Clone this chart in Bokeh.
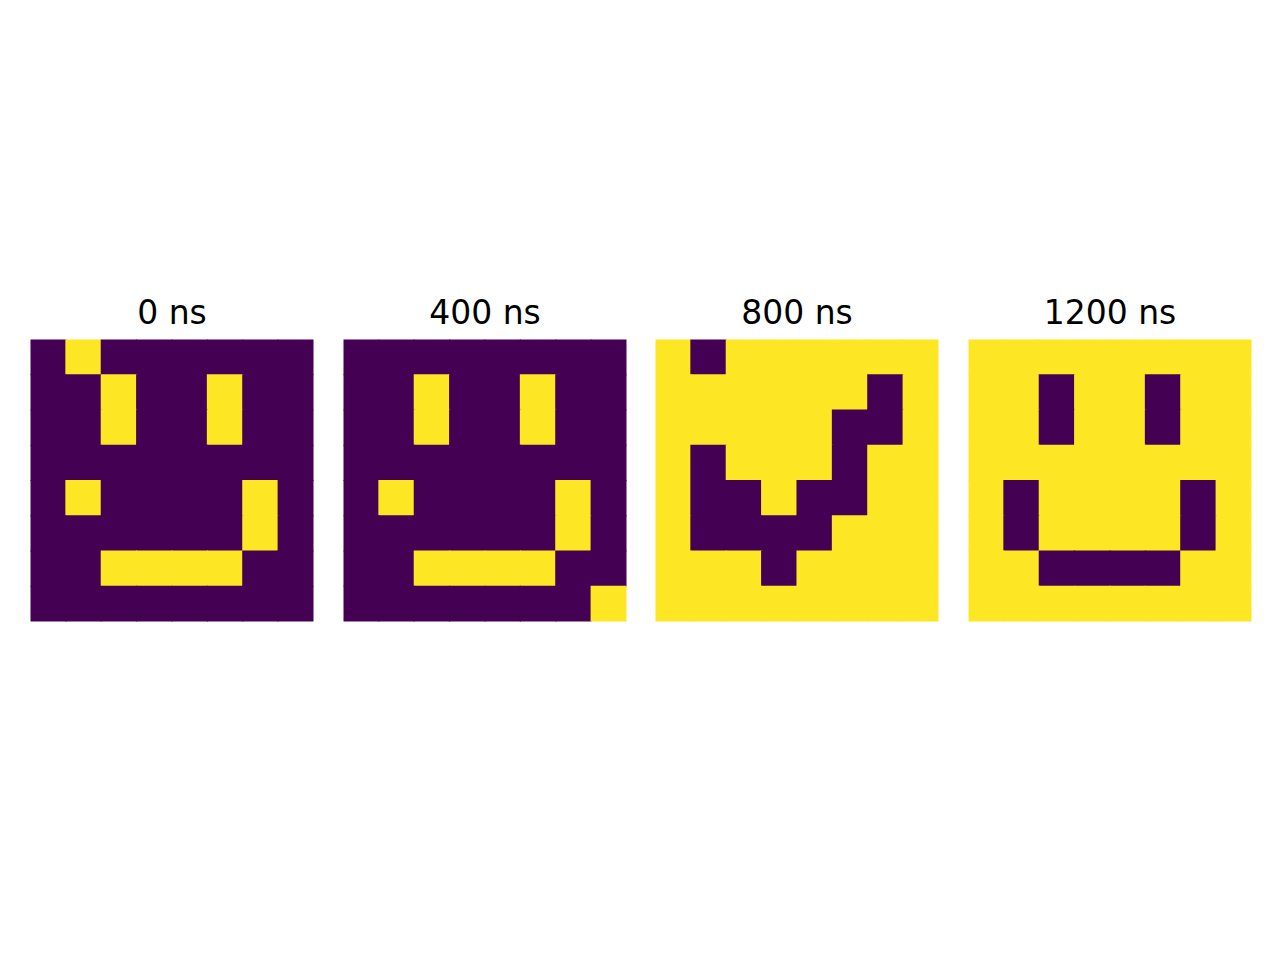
from bokeh.embed import file_html
from bokeh.resources import INLINE
from bokeh.layouts import row, column
from bokeh.models import ColumnDataSource, Range1d, Spacer
from bokeh.plotting import figure

# 8x8 occupation snapshots, row 0 is the top row (1 = yellow, 0 = purple)
snap_0 = [
    [0, 1, 0, 0, 0, 0, 0, 0],
    [0, 0, 1, 0, 0, 1, 0, 0],
    [0, 0, 1, 0, 0, 1, 0, 0],
    [0, 0, 0, 0, 0, 0, 0, 0],
    [0, 1, 0, 0, 0, 0, 1, 0],
    [0, 0, 0, 0, 0, 0, 1, 0],
    [0, 0, 1, 1, 1, 1, 0, 0],
    [0, 0, 0, 0, 0, 0, 0, 0],
]
snap_400 = [
    [0, 0, 0, 0, 0, 0, 0, 0],
    [0, 0, 1, 0, 0, 1, 0, 0],
    [0, 0, 1, 0, 0, 1, 0, 0],
    [0, 0, 0, 0, 0, 0, 0, 0],
    [0, 1, 0, 0, 0, 0, 1, 0],
    [0, 0, 0, 0, 0, 0, 1, 0],
    [0, 0, 1, 1, 1, 1, 0, 0],
    [0, 0, 0, 0, 0, 0, 0, 1],
]
snap_800 = [
    [1, 0, 1, 1, 1, 1, 1, 1],
    [1, 1, 1, 1, 1, 1, 0, 1],
    [1, 1, 1, 1, 1, 0, 0, 1],
    [1, 0, 1, 1, 1, 0, 1, 1],
    [1, 0, 0, 1, 0, 0, 1, 1],
    [1, 0, 0, 0, 0, 1, 1, 1],
    [1, 1, 1, 0, 1, 1, 1, 1],
    [1, 1, 1, 1, 1, 1, 1, 1],
]
snap_1200 = [
    [1, 1, 1, 1, 1, 1, 1, 1],
    [1, 1, 0, 1, 1, 0, 1, 1],
    [1, 1, 0, 1, 1, 0, 1, 1],
    [1, 1, 1, 1, 1, 1, 1, 1],
    [1, 0, 1, 1, 1, 1, 0, 1],
    [1, 0, 1, 1, 1, 1, 0, 1],
    [1, 1, 0, 0, 0, 0, 1, 1],
    [1, 1, 1, 1, 1, 1, 1, 1],
]
snapshots = [snap_0, snap_400, snap_800, snap_1200]
titles = ["0 ns", "400 ns", "800 ns", "1200 ns"]

palette = ["#440154", "#fde725"]

# left/right borders so the frames sit at the same x as the reference
borders = [(30, 15), (15, 14), (15, 15), (15, 15)]

plots = []
for (grid, t, (bl, br)) in zip(snapshots, titles, borders):
    n = len(grid)
    xs, ys, cols = [], [], []
    for r, line in enumerate(grid):
        for c, v in enumerate(line):
            xs.append(c + 0.5)
            ys.append(n - r - 0.5)
            cols.append(palette[v])
    src = ColumnDataSource(dict(x=xs, y=ys, color=cols))

    p = figure(frame_width=283, frame_height=282, output_backend="svg",
               toolbar_location=None, title=t,
               x_range=Range1d(0, n), y_range=Range1d(0, n),
               min_border_left=bl, min_border_right=br,
               min_border_top=0, min_border_bottom=10)
    # slightly oversized cells so neighbours overlap and no seams show
    p.rect(x="x", y="y", width=1.03, height=1.03, fill_color="color",
           line_color=None, source=src)
    p.axis.visible = False
    p.grid.visible = False
    p.outline_line_color = None
    p.title.align = "center"
    p.title.text_font = "DejaVu Sans"
    p.title.text_font_size = "33px"
    p.title.text_font_style = "normal"
    p.title.text_color = "black"
    p.title.standoff = 15
    plots.append(p)

layout = column(Spacer(height=283), row(*plots))
open("out.html", "w").write(file_html(layout, INLINE))
